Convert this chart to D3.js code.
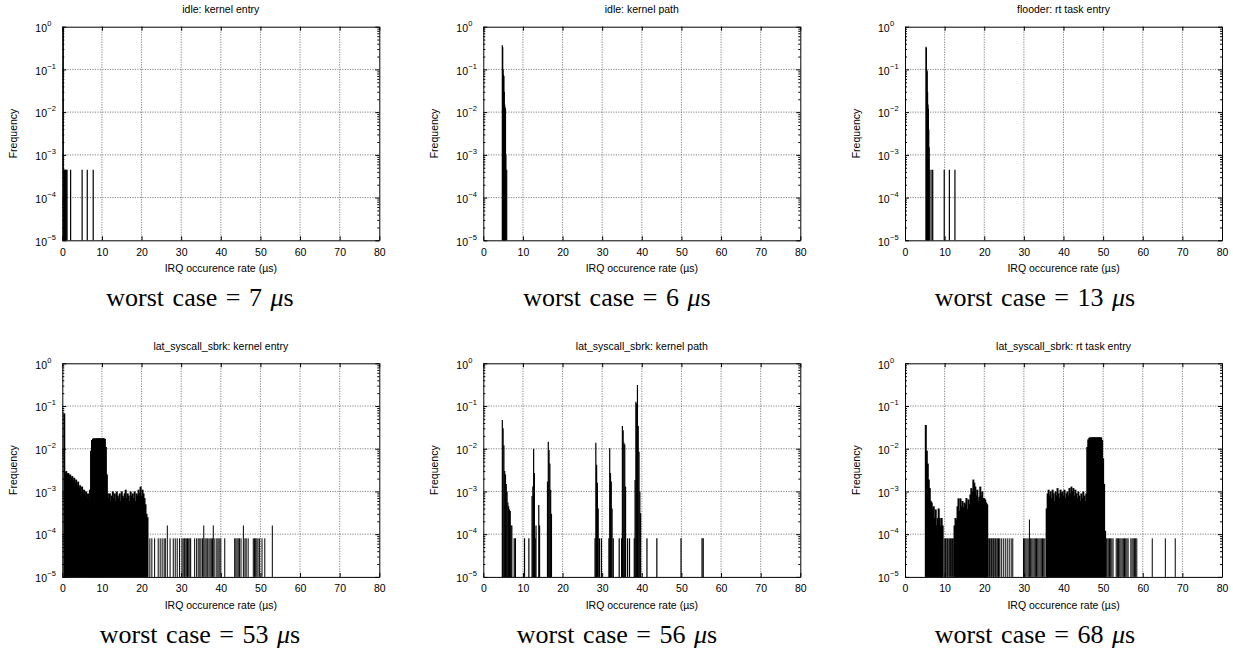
<!DOCTYPE html>
<html>
<head>
<meta charset="utf-8">
<title>IRQ occurence rate histograms</title>
<script src="https://d3js.org/d3.v7.min.js"></script>
<style>
    body { margin: 0; background: #fff; }
    .grid line { stroke: #666; stroke-width: 0.8; stroke-dasharray: 1.2,1.3; }
    .axis path, .axis line { stroke: #000; stroke-width: 1; }
    .small { font-family: "Liberation Sans", Arial, sans-serif; font-size: 10.5px; fill: #000; }
    .expo { font-family: "Liberation Sans", Arial, sans-serif; font-size: 7.5px; fill: #000; }
    .worst { font-family: "Liberation Serif", "Times New Roman", serif; font-size: 26px; fill: #000; word-spacing: 2px; }
</style>
</head>
<body>
<svg width="1233" height="654"></svg>
<script>

    // ---- data ----
    var titles = [
        "idle: kernel entry",
        "idle: kernel path",
        "flooder: rt task entry",
        "lat_syscall_sbrk: kernel entry",
        "lat_syscall_sbrk: kernel path",
        "lat_syscall_sbrk: rt task entry"
    ];
    var worstCase = [7, 6, 13, 53, 56, 68];
    var xTicks = [0, 10, 20, 30, 40, 50, 60, 70, 80];
    var yTicks = [1e-5, 1e-4, 1e-3, 1e-2, 1e-1, 1];

    // single / double occurrence levels (top row had fewer samples)
    var onceTop = 4.5e-4;
    var onceBottom = 8e-5;
    var twiceBottom = 1.6e-4;

    // idle: kernel entry
    var idleEntryX = [0.25, 0.4, 0.55, 0.7, 0.85, 1.0, 1.2, 2.1, 5.0, 6.3, 7.8];
    var idleEntryY = [0.996, onceTop, onceTop, onceTop, onceTop, onceTop, onceTop, onceTop, onceTop, onceTop, onceTop];

    // idle: kernel path
    var idlePathX = [4.8, 4.9, 5.0, 5.1, 5.2, 5.3, 5.4, 5.5, 5.6, 5.7, 5.9];
    var idlePathY = [0.37, 0.33, 0.10, 0.075, 0.07, 0.03, 0.015, 0.013, 0.012, 0.001, onceTop];

    // flooder: rt task entry
    var flooderX = [5.3, 5.4, 5.5, 5.6, 5.7, 5.8, 5.9, 6.0, 6.1, 6.3, 6.8, 7.0, 9.9, 11.2, 12.6];
    var flooderY = [0.34, 0.32, 0.10, 0.09, 0.03, 0.015, 0.012, 0.004, 0.0015, onceTop, onceTop, onceTop, onceTop, onceTop, onceTop];

    // lat_syscall_sbrk: kernel entry  (bins of 0.25 us starting at 0.5)
    var sbrkEntryStart = 0.5;
    var sbrkEntryBins = [
        0.067, 0.0028, 0.0030, 0.0026, 0.0027, 0.0024, 0.0025, 0.0021, 0.0023, 0.0018,
        0.0021, 0.0016, 0.0019, 0.0014, 0.0017, 0.0012, 0.0014, 0.0010, 0.0013, 0.0009,
        0.0011, 0.0008, 0.0010, 0.0007, 0.0009, 0.0006, 0.0011, 0.009, 0.016, 0.0172,
        0.0175, 0.0170, 0.0176, 0.0174, 0.0177, 0.0173, 0.0176, 0.0175, 0.0174, 0.0177,
        0.0175, 0.0170, 0.011, 0.0025, 0.0009, 0.0007, 0.0009, 0.0006, 0.0008, 0.0010,
        0.0007, 0.0009, 0.0006, 0.0010, 0.0008, 0.0007, 0.0009, 0.0006, 0.0010, 0.0008,
        0.0007, 0.0009, 0.0011, 0.0007, 0.0009, 0.0008, 0.0006, 0.0010, 0.0008, 0.0009,
        0.0007, 0.0010, 0.0006, 0.0009, 0.0008, 0.0011, 0.0009, 0.0013, 0.0008, 0.0011,
        0.0009, 0.0007, 0.0005, 0.0003, 0.00025
    ];
    var sbrkEntryOnce = [22.1, 22.6, 23.3, 24.2, 24.7, 25.2, 25.7, 26.0, 27.2, 28.0, 28.5, 29.0, 29.6,
        30.2, 30.5, 30.8, 31.0, 31.3, 31.6, 31.9, 32.2, 32.4, 33.4, 33.9, 34.3, 34.7, 35.0, 35.4,
        36.0, 36.3, 36.6, 37.0, 37.3, 37.6, 37.9, 38.5, 39.0, 39.3, 39.6, 40.0, 41.0,
        43.5, 43.8, 44.1, 44.4, 44.7, 45.1, 46.1, 46.4, 46.9, 48.2, 48.5, 48.8, 49.1, 49.4, 49.8,
        50.4, 51.1];
    var sbrkEntryTwice = [26.5, 35.7, 38.1, 45.7, 53.0];

    // lat_syscall_sbrk: kernel path
    var sbrkPathX = [4.8, 5.0, 5.2, 5.4, 5.6, 5.8, 6.0, 6.2, 6.4, 6.6, 6.8, 7.0, 7.2, 7.8, 8.1,
        10.4, 11.5, 12.3, 12.5, 12.7, 12.9, 13.1, 13.3, 14.0, 14.2,
        16.2, 16.4, 16.6, 16.8, 17.0, 17.2,
        28.2, 28.4, 28.6, 28.8, 29.0, 29.3, 29.8,
        31.7, 31.9, 32.1, 32.3, 32.5, 32.8, 34.3,
        34.9, 35.1, 35.3, 35.5, 35.7, 35.9, 36.4, 36.9,
        38.1, 38.3, 38.5, 38.7, 38.9, 39.1, 39.3, 39.5, 39.7, 41.3, 43.8, 49.9, 55.2, 55.5];
    var sbrkPathY = [0.047, 0.030, 0.012, 0.0030, 0.0025, 0.0015, 0.0010, 0.00055, 0.00045, 0.00038, 0.00035, 0.00016, 0.00016, 8e-5, 8e-5,
        8e-5, 8e-5, 0.00078, 0.0013, 0.010, 0.0027, 8e-5, 0.00016, 0.00048, 0.00016,
        0.0017, 0.0146, 0.0093, 0.0045, 0.0011, 0.0003,
        8e-5, 0.0138, 0.0042, 0.0016, 0.0004, 8e-5, 8e-5,
        8e-5, 0.0102, 0.0027, 0.0017, 0.0004, 8e-5, 8e-5,
        8e-5, 0.034, 0.027, 0.0138, 0.0125, 0.0013, 8e-5, 8e-5,
        8e-5, 0.00185, 0.126, 0.115, 0.31, 0.034, 0.0085, 0.001, 0.00031, 8e-5, 8e-5, 8e-5, 8e-5, 8e-5];

    // lat_syscall_sbrk: rt task entry  (three dense blocks of 0.25 us bins)
    var sbrkTaskStartA = 5.25;
    var sbrkTaskBinsA = [0.036, 0.009, 0.0045, 0.0019, 0.0012, 0.0006, 0.00055, 0.0004, 0.00045,
        0.00024, 0.00038, 0.00016, 0.00024, 0.00040, 0.00024, 0.00016, 0.00024, 0.00016];
    var sbrkTaskStartB = 12.5;
    var sbrkTaskBinsB = [0.00016, 0.00024, 0.00022, 0.00045, 0.00069, 0.00035, 0.00069, 0.00045, 0.0006,
        0.00042, 0.00055, 0.0005, 0.0007, 0.00038, 0.00065, 0.0005, 0.00085, 0.0012, 0.0010,
        0.0019, 0.0016, 0.0013, 0.0008, 0.0011, 0.0006, 0.00075, 0.0013, 0.0008, 0.0010,
        0.0007, 0.0007, 0.00065, 0.00055, 0.0005];
    var sbrkTaskStartC = 35.75;
    var sbrkTaskBinsC = [0.0004, 0.0009, 0.0011, 0.0008, 0.0010, 0.0007, 0.0011, 0.0009, 0.0006,
        0.0010, 0.0008, 0.0012, 0.0009, 0.0007, 0.0011, 0.0009, 0.0010, 0.0008, 0.0011, 0.0007,
        0.0009, 0.0010, 0.0008, 0.0012, 0.0009, 0.0013, 0.0010, 0.0012, 0.0008, 0.0011, 0.0009,
        0.0007, 0.0010, 0.0008, 0.0006, 0.0009, 0.0007, 0.0010, 0.0008, 0.0006, 0.0009,
        0.0110, 0.0165, 0.0180, 0.0185, 0.0183, 0.0186, 0.0184, 0.0187, 0.0185, 0.0183, 0.0186,
        0.0185, 0.0187, 0.0184, 0.0185, 0.0160, 0.0060, 0.0015, 0.00012];
    var sbrkTaskOnce = [9.9, 10.2, 10.4, 10.7, 10.9, 11.2, 11.5, 11.7, 12.0, 12.3,
        21.0, 21.3, 21.5, 21.8, 22.0, 22.3, 22.5, 22.8, 23.0, 23.3, 23.6, 23.9, 24.3, 24.8,
        25.3, 25.8, 26.3, 26.8, 27.2, 29.9, 30.2, 30.5, 30.8, 31.1, 31.7, 32.0, 32.3, 32.6,
        32.9, 33.2, 33.5, 33.8, 34.1, 34.4, 34.7, 35.0, 35.3,
        50.8, 51.0, 51.3, 51.6, 51.9, 52.2, 52.5, 53.3, 53.6, 53.9, 54.2, 54.5, 54.8, 55.1,
        55.4, 55.7, 56.0, 56.3, 57.0, 57.3, 57.6, 57.9, 58.2, 58.5, 62.4, 65.7, 68.2];
    var sbrkTaskTriple = [31.4];
    var tripleBottom = 2.2e-4;

    // ---- build impulse lists ----
    function pairs(xs, ys) {
        return xs.map(function(d, i) { return {x: d, y: ys[i], w: 1.2}; });
    }
    // dense bins are drawn wider so neighbouring impulses fill solid
    function bins(start, vals) {
        return vals.map(function(v, i) { return {x: start + i * 0.25, y: v, w: 2}; });
    }
    function level(xs, v) {
        return xs.map(function(d) { return {x: d, y: v, w: 1}; });
    }

    var panels = [
        pairs(idleEntryX, idleEntryY),
        pairs(idlePathX, idlePathY),
        pairs(flooderX, flooderY),
        bins(sbrkEntryStart, sbrkEntryBins)
            .concat(level(sbrkEntryOnce, onceBottom))
            .concat(level(sbrkEntryTwice, twiceBottom)),
        pairs(sbrkPathX, sbrkPathY),
        bins(sbrkTaskStartA, sbrkTaskBinsA)
            .concat(bins(sbrkTaskStartB, sbrkTaskBinsB))
            .concat(bins(sbrkTaskStartC, sbrkTaskBinsC))
            .concat(level(sbrkTaskOnce, onceBottom))
            .concat(level(sbrkTaskTriple, tripleBottom))
    ];

    // ---- layout ----
    var svg = d3.select("svg");
    var colLeft = [62.3, 483.3, 905];
    var rowTop = [26.7, 363.3];
    var pw = 317, ph = 213.6;
    var worstX = [200, 617, 1035];

    var minorTicks = [];
    for (var e = -5; e < 0; e++) {
        for (var m = 2; m <= 9; m++) minorTicks.push(m * Math.pow(10, e));
    }

    panels.forEach(function(data, i) {
        var col = i % 3, row = Math.floor(i / 3);
        var x0 = colLeft[col], y0 = rowTop[row];

        var x = d3.scaleLinear().domain([0, 80]).range([x0, x0 + pw]);
        var y = d3.scaleLog().domain([1e-5, 1]).range([y0 + ph, y0]);

        var g = svg.append("g");

        // dotted grid
        var grid = g.append("g").attr("class", "grid");
        grid.selectAll("line.v")
            .data(xTicks.slice(1, -1))
            .enter().append("line")
            .attr("x1", function(d) { return x(d); })
            .attr("x2", function(d) { return x(d); })
            .attr("y1", y0)
            .attr("y2", y0 + ph);
        grid.selectAll("line.h")
            .data(yTicks.slice(1, -1))
            .enter().append("line")
            .attr("x1", x0)
            .attr("x2", x0 + pw)
            .attr("y1", function(d) { return y(d); })
            .attr("y2", function(d) { return y(d); });

        // impulses
        g.append("g").selectAll("line")
            .data(data)
            .enter().append("line")
            .attr("x1", function(d) { return x(d.x); })
            .attr("x2", function(d) { return x(d.x); })
            .attr("y1", y(1e-5))
            .attr("y2", function(d) { return y(d.y); })
            .attr("stroke", "#000")
            .attr("stroke-width", function(d) { return d.w; });

        // axes, ticks pointing inward
        g.append("g").attr("class", "axis small")
            .attr("transform", "translate(0," + (y0 + ph) + ")")
            .call(d3.axisBottom(x).tickValues(xTicks).tickSizeInner(-4).tickSizeOuter(0).tickPadding(8))
            .call(function(s) { s.selectAll("text").attr("class", "small").attr("font-size", null).attr("font-family", null); });
        g.append("g").attr("class", "axis")
            .attr("transform", "translate(0," + y0 + ")")
            .call(d3.axisTop(x).tickValues(xTicks).tickSizeInner(-4).tickSizeOuter(0).tickFormat(""));
        g.append("g").attr("class", "axis")
            .attr("transform", "translate(" + x0 + ",0)")
            .call(d3.axisLeft(y).tickValues(yTicks).tickSizeInner(-4).tickSizeOuter(0).tickFormat(""));
        g.append("g").attr("class", "axis")
            .attr("transform", "translate(" + (x0 + pw) + ",0)")
            .call(d3.axisRight(y).tickValues(yTicks).tickSizeInner(-4).tickSizeOuter(0).tickFormat(""));
        g.append("g").attr("class", "axis")
            .attr("transform", "translate(" + x0 + ",0)")
            .call(d3.axisLeft(y).tickValues(minorTicks).tickSizeInner(-2).tickSizeOuter(0).tickFormat(""))
            .select(".domain").remove();
        g.append("g").attr("class", "axis")
            .attr("transform", "translate(" + (x0 + pw) + ",0)")
            .call(d3.axisRight(y).tickValues(minorTicks).tickSizeInner(-2).tickSizeOuter(0).tickFormat(""))
            .select(".domain").remove();

        // y tick labels 10^n
        var yl = g.append("g");
        yl.selectAll("text.base")
            .data(yTicks)
            .enter().append("text")
            .attr("class", "small")
            .attr("text-anchor", "end")
            .attr("x", x0 - 15.3)
            .attr("y", function(d) { return y(d) + 5.3; })
            .text("10");
        yl.selectAll("text.exp")
            .data(yTicks)
            .enter().append("text")
            .attr("class", "expo")
            .attr("x", x0 - 15)
            .attr("y", function(d) { return y(d) - 0.8; })
            .text(function(d) {
                var n = Math.round(Math.log10(d));
                return n === 0 ? "0" : "\u2212" + Math.abs(n);
            });

        // title and axis labels
        g.append("text")
            .attr("class", "small")
            .attr("text-anchor", "middle")
            .attr("x", x0 + pw / 2)
            .attr("y", y0 - 13.5)
            .text(titles[i]);
        g.append("text")
            .attr("class", "small")
            .attr("text-anchor", "middle")
            .attr("x", x0 + pw / 2)
            .attr("y", y0 + ph + 32)
            .text("IRQ occurence rate (\u00b5s)");
        g.append("text")
            .attr("class", "small")
            .attr("text-anchor", "middle")
            .attr("transform", "translate(" + (x0 - 45.5) + "," + (y0 + ph / 2) + ") rotate(-90)")
            .text("Frequency");

        // caption
        var cap = g.append("text")
            .attr("class", "worst")
            .attr("text-anchor", "middle")
            .attr("x", worstX[col])
            .attr("y", y0 + ph + 66);
        cap.append("tspan").text("worst case = " + worstCase[i] + " ");
        cap.append("tspan").attr("font-style", "italic").text("\u03bc");
        cap.append("tspan").text("s");
    });

</script>
</body>
</html>
